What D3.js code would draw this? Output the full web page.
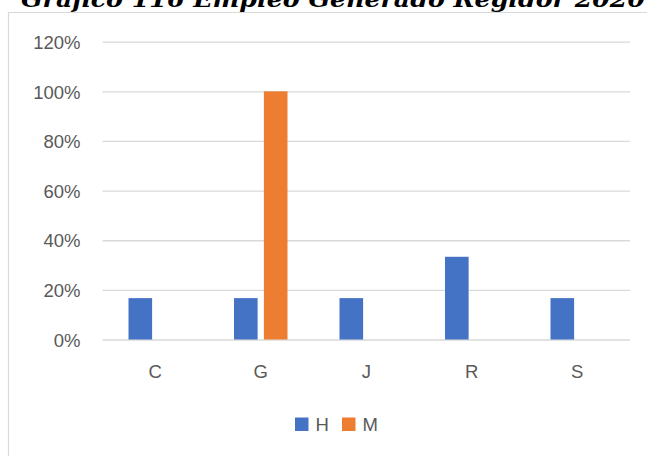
<!DOCTYPE html>
<html>
<head>
<meta charset="utf-8">
<script src="https://cdn.jsdelivr.net/npm/d3@7/dist/d3.min.js"></script>
<style>
  html, body { margin: 0; padding: 0; background: #fff; }
  svg { display: block; }
</style>
</head>
<body>
<svg id="chart" width="647" height="456"></svg>
<script>
const title = "Gráfico 116 Empleo Generado Regidor 2020";
const categories = ["C", "G", "J", "R", "S"];
const seriesNames = ["H", "M"];
const valuesH = [0.1667, 0.1667, 0.1667, 0.3333, 0.1667];
const valuesM = [0, 1.0, 0, 0, 0];
const yTicks = [0, 0.2, 0.4, 0.6, 0.8, 1.0, 1.2];
const colors = ["#4472C4", "#ED7D31"];

const svg = d3.select("#chart");
const font = "'Liberation Sans', Arial, sans-serif";

// chart area border (extends past window on right/bottom)
svg.append("path")
  .attr("d", "M8.5,700 L8.5,12.5 L700,12.5")
  .attr("fill", "none").attr("stroke", "#D9D9D9").attr("stroke-width", 1.2);

// title (cut off at top)
svg.append("text")
  .attr("x", 21).attr("y", 7)
  .attr("font-family", "'DejaVu Serif', serif")
  .attr("font-weight", "bold").attr("font-style", "italic")
  .attr("font-size", 22)
  .attr("textLength", 624).attr("lengthAdjust", "spacingAndGlyphs")
  .attr("fill", "#000")
  .text(title);

const x0 = d3.scaleBand().domain(categories).range([102.5, 630]).paddingInner(0).paddingOuter(0);
const groupW = 53.5;
const x1 = d3.scaleBand().domain(seriesNames).range([0, groupW]).paddingInner(0.21);
const y = d3.scaleLinear().domain([0, 1.2]).range([339.5, 41.7]);

// gridlines via axis
const yAxis = d3.axisLeft(y).tickValues(yTicks).tickSize(-(630 - 102.5)).tickFormat(d3.format(".0%"));
const gy = svg.append("g").attr("transform", "translate(102.5,0)").call(yAxis);
gy.select(".domain").remove();
gy.selectAll(".tick line").attr("stroke", "#D9D9D9").attr("stroke-width", 1.3);
gy.selectAll(".tick text")
  .attr("x", -22).attr("dy", "0.36em")
  .attr("font-family", font).attr("font-size", 18.5)
  .attr("fill", "#595959");

// bars
const data = categories.map((c, i) => ({ cat: c, vals: [valuesH[i], valuesM[i]] }));
const groups = svg.append("g").selectAll("g").data(data).join("g")
  .attr("transform", d => `translate(${x0(d.cat) + (x0.bandwidth() - groupW) / 2},0)`);
groups.selectAll("rect")
  .data(d => d.vals.map((v, j) => ({ s: seriesNames[j], v, j })).filter(e => e.v > 0))
  .join("rect")
  .attr("x", e => x1(e.s))
  .attr("width", x1.bandwidth())
  .attr("y", e => y(e.v))
  .attr("height", e => y(0) - y(e.v))
  .attr("fill", e => colors[e.j]);

// x axis labels
const xAxis = d3.axisBottom(x0).tickSize(0);
const gx = svg.append("g").attr("transform", "translate(0,339.5)").call(xAxis);
gx.select(".domain").remove();
gx.selectAll(".tick text")
  .attr("y", 0).attr("dy", 38.5)
  .attr("font-family", font).attr("font-size", 18.5)
  .attr("fill", "#595959");

// legend
const legendX = [295, 342];
const lg = svg.append("g").selectAll("g").data(seriesNames).join("g")
  .attr("transform", (d, i) => `translate(${legendX[i]},0)`);
lg.append("rect").attr("x", 0).attr("y", 417.5).attr("width", 13.5).attr("height", 13.5)
  .attr("fill", (d, i) => colors[i]);
lg.append("text").attr("x", 20.5).attr("y", 431)
  .attr("font-family", font).attr("font-size", 18.5).attr("fill", "#595959")
  .text(d => d);
</script>
</body>
</html>
